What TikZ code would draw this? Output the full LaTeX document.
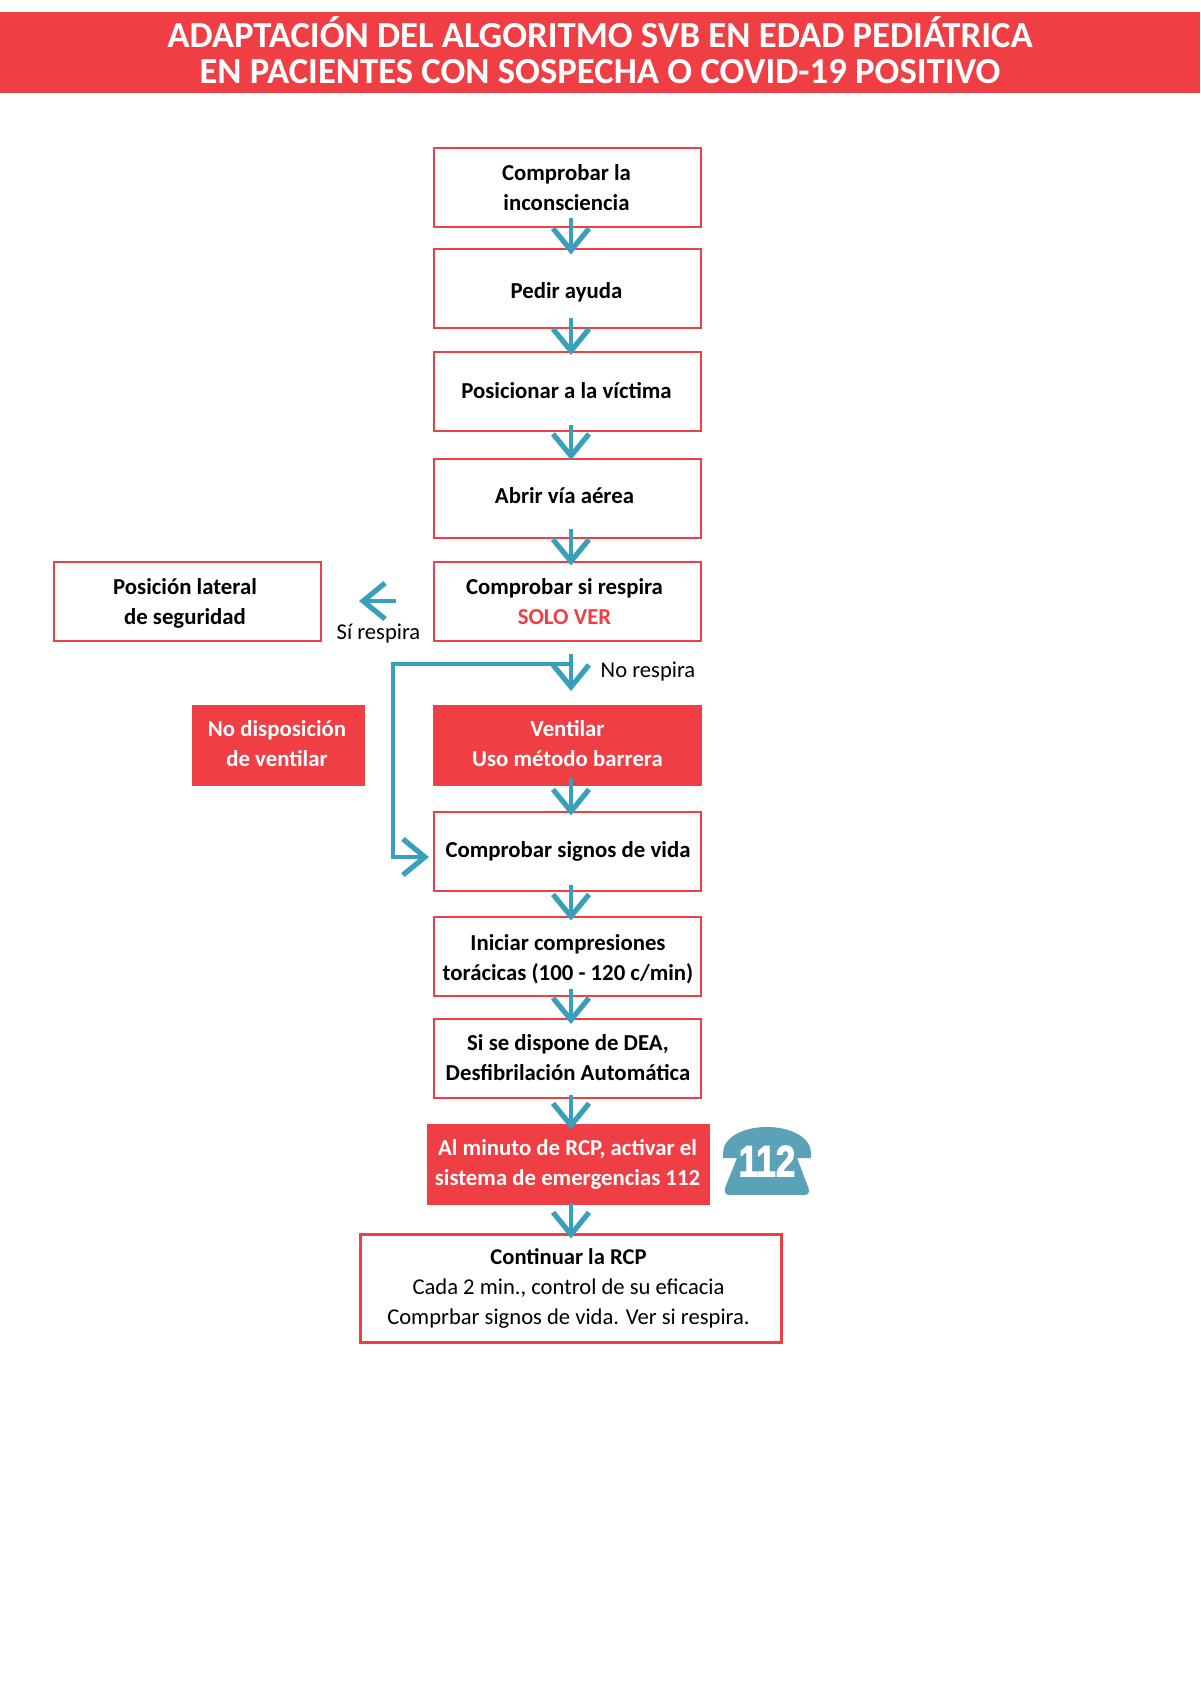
\documentclass[tikz,border=0pt]{standalone}
\usepackage{fontspec}
\setmainfont{Carlito}
\newfontfamily\phonefont[UprightFont=* Bold,RawFeature={embolden=2.5}]{Liberation Sans}
\usetikzlibrary{arrows.meta,calc}
\definecolor{redc}{HTML}{EF3F45}
\definecolor{tealc}{HTML}{38A0BA}
\definecolor{phonec}{HTML}{5BA1B8}
\tikzset{
  box/.style={rectangle,draw=redc,line width=2pt,inner sep=0pt,minimum width=267pt,minimum height=79pt},
  redbox/.style={box,fill=redc},
  txt/.style={inner sep=0pt,align=center,text=black,font=\fontsize{22.8}{30}\selectfont\bfseries},
  wtxt/.style={txt,text=white},
  lbl/.style={inner sep=0pt,align=center,text=black,font=\fontsize{22.6}{30}\selectfont},
  flow/.style={draw=tealc,line width=4pt,-{Straight Barb[length=22pt,width=36pt,line width=5.2pt]}},
}
\begin{document}
\begin{tikzpicture}[x=1pt,y=-1pt]
\useasboundingbox (0,0) rectangle (1200,1697);
\node[rectangle,fill=redc,minimum width=1200pt,minimum height=81pt,inner sep=0pt] (banner) at (600,52.5) {};
\node[inner sep=0pt,align=center,text=white,font=\fontsize{36.7}{36}\selectfont\bfseries] (title) at (600,50.5) {ADAPTACIÓN DEL ALGORITMO SVB EN EDAD PEDIÁTRICA\\EN PACIENTES CON SOSPECHA O COVID-19 POSITIVO};
\node[box] (b1) at (567.5,187) {};
\node[txt] (t1) at (566.5,188) {Comprobar la\\inconsciencia};
\node[box] (b2) at (567.5,288) {};
\node[txt] (t2) at (566.5,292) {Pedir ayuda};
\node[box] (b3) at (567.5,391.5) {};
\node[txt] (t3) at (566.5,390.5) {Posicionar a la víctima};
\node[box] (b4) at (567.5,498.5) {};
\node[txt] (t4) at (564.5,496) {Abrir vía aérea};
\node[box] (b5) at (567.5,601) {};
\node[txt] (t5) at (564.5,602) {Comprobar si respira\\\textcolor{redc}{SOLO VER}};
\node[box] (lat) at (187.5,601) {};
\node[txt] (tlat) at (185,603.7) {Posición lateral\\de seguridad};
\node[redbox] (vent) at (567.5,745.5) {};
\node[wtxt] (tvent) at (567.5,743.3) {Ventilar\\Uso método barrera};
\node[redbox,minimum width=171pt] (nodisp) at (278.5,745.5) {};
\node[wtxt] (tnodisp) at (277,743.3) {No disposición\\de ventilar};
\node[box] (b6) at (567.5,851) {};
\node[txt] (t6) at (568,851) {Comprobar signos de vida};
\node[box] (b7) at (567.5,956) {};
\node[txt] (t7) at (568,959) {Iniciar compresiones\\torácicas (100 - 120 c/min)};
\node[box] (b8) at (567.5,1058.5) {};
\node[txt] (t8) at (568,1057.5) {Si se dispone de DEA,\\Desfibrilación Automática};
\node[redbox,minimum width=281pt] (b9) at (568,1164) {};
\node[wtxt] (t9) at (567.5,1164) {Al minuto de RCP, activar el\\sistema de emergencias 112};
\node[box,line width=3pt,minimum width=421pt,minimum height=108pt] (b10) at (571,1288) {};
\node[lbl] (t10) at (568.5,1288) {\textbf{Continuar la RCP}\\Cada 2 min., control de su eficacia\\Comprbar signos de vida. Ver si respira.};
\node[lbl] (si) at (378.5,633.5) {Sí respira};
\node[lbl] (no) at (648,672) {No respira};
% phone
\fill[phonec] (723,1153) .. controls (723,1138) and (742,1127) .. (767,1127) .. controls (792,1127) and (811,1138) .. (811,1153) -- (811,1158)
  -- (797,1158) -- (808.5,1188) .. controls (810,1193) and (808,1195) .. (804,1195) -- (730,1195) .. controls (726,1195) and (724,1193) .. (725,1188) -- (737,1158) -- (723,1158) -- cycle;
\node[inner sep=0pt,text=white,xscale=0.8,font=\phonefont\fontsize{44}{44}\selectfont] (n112) at (767,1161) {112};
% connectors
\draw[flow] ([shift={(3.5,-10)}]b1.south) -- ([shift={(3.5,7)}]b2.north);
\draw[flow] ([shift={(3.5,-11)}]b2.south) -- ([shift={(3.5,4)}]b3.north);
\draw[flow] ([shift={(3.5,-7)}]b3.south) -- ([shift={(3.5,2)}]b4.north);
\draw[flow] ([shift={(3.5,-10)}]b4.south) -- ([shift={(3.5,5)}]b5.north);
\draw[flow,shorten <=37pt,shorten >=37pt] (b5.west) -- (lat.east);
\draw[flow] ([shift={(3.5,12)}]b5.south) -- ([shift={(3.5,-14)}]vent.north);
\draw[flow] ([shift={(3.5,-8)}]vent.south) -- ([shift={(3.5,5)}]b6.north);
\draw[flow] ([shift={(3.5,-7)}]b6.south) -- ([shift={(3.5,5)}]b7.north);
\draw[flow] ([shift={(3.5,-8)}]b7.south) -- ([shift={(3.5,6)}]b8.north);
\draw[flow] ([shift={(3.5,-4)}]b8.south) -- ([shift={(3,6)}]b9.north);
\draw[flow] ([shift={(3,-2)}]b9.south) -- ([shift={(0,6)}]b10.north);
\coordinate (branch) at ($(b5.south)+(3.5,22)$);
\coordinate (signo) at ($(b6.west)+(-4,6)$);
\coordinate (rail) at (393,700);
\draw[flow] (branch) -- (branch-|rail) -- (signo-|rail) -- (signo);
\end{tikzpicture}
\end{document}
